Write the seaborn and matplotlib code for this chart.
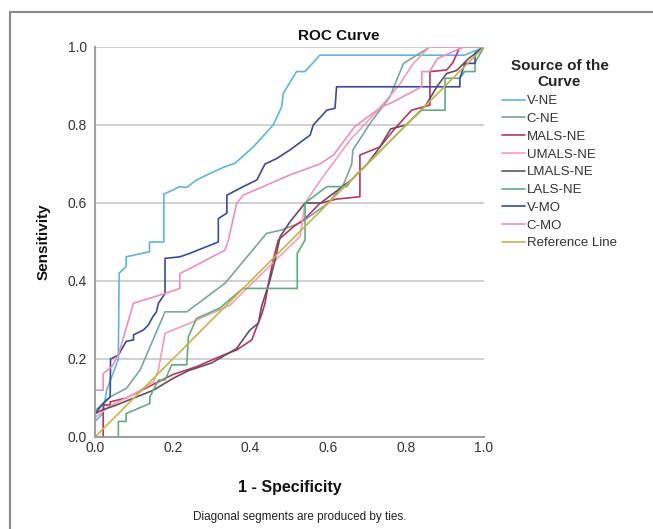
import numpy as np
import pandas as pd
import seaborn as sns
import matplotlib.pyplot as plt
from matplotlib.lines import Line2D

# ROC points (1 - specificity, sensitivity)
vne_x = [0, 0, 0.02, 0.03, 0.045, 0.06, 0.062, 0.08, 0.08, 0.14, 0.14, 0.177, 0.177, 0.197, 0.218, 0.236,
         0.261, 0.296, 0.334, 0.36, 0.407, 0.458, 0.48, 0.484, 0.518, 0.54, 0.578, 0.95, 1]
vne_y = [0, 0.04, 0.06, 0.12, 0.16, 0.2, 0.42, 0.437, 0.462, 0.475, 0.5, 0.5, 0.623, 0.632, 0.642, 0.64,
         0.659, 0.676, 0.693, 0.702, 0.744, 0.8, 0.847, 0.881, 0.937, 0.937, 0.979, 0.979, 1]

cne_x = [0, 0.039, 0.081, 0.116, 0.18, 0.236, 0.334, 0.441, 0.48, 0.53, 0.6, 0.64, 0.66, 0.663, 0.707,
         0.758, 0.793, 0.861, 1]
cne_y = [0.067, 0.103, 0.125, 0.172, 0.321, 0.321, 0.394, 0.522, 0.531, 0.55, 0.6, 0.65, 0.7, 0.736, 0.804,
         0.872, 0.958, 1, 1]

malsne_x = [0, 0.021, 0.021, 0.039, 0.039, 0.08, 0.12, 0.2, 0.26, 0.33, 0.364, 0.403, 0.416, 0.428, 0.437,
            0.446, 0.458, 0.471, 0.51, 0.54, 0.578, 0.62, 0.681, 0.681, 0.733, 0.77, 0.814, 0.861, 0.861,
            0.904, 0.92, 0.938, 1]
malsne_y = [0, 0, 0.082, 0.082, 0.09, 0.1, 0.12, 0.16, 0.18, 0.21, 0.223, 0.249, 0.283, 0.313, 0.343,
            0.394, 0.454, 0.505, 0.539, 0.56, 0.599, 0.61, 0.616, 0.723, 0.744, 0.79, 0.838, 0.851, 0.937,
            0.941, 0.96, 1, 1]

umalsne_x = [0, 0, 0.04, 0.1, 0.15, 0.163, 0.18, 0.244, 0.347, 0.42, 0.5, 0.527, 0.54, 0.583, 0.656, 0.72,
             0.78, 0.82, 0.86, 1]
umalsne_y = [0, 0.05, 0.08, 0.11, 0.14, 0.172, 0.266, 0.292, 0.338, 0.41, 0.488, 0.514, 0.6, 0.663, 0.762,
             0.83, 0.9, 0.96, 1, 1]

lmalsne_x = [0, 0, 0.02, 0.05, 0.1, 0.15, 0.2, 0.24, 0.3, 0.321, 0.364, 0.398, 0.42, 0.428, 0.45, 0.463,
             0.476, 0.5, 0.54, 0.58, 0.62, 0.66, 0.7, 0.73, 0.76, 0.8, 0.85, 0.88, 0.904, 0.93, 0.96, 1]
lmalsne_y = [0, 0.06, 0.07, 0.08, 0.1, 0.12, 0.15, 0.17, 0.19, 0.202, 0.227, 0.274, 0.292, 0.334, 0.403,
             0.454, 0.514, 0.55, 0.6, 0.6, 0.63, 0.66, 0.7, 0.74, 0.79, 0.8, 0.85, 0.9, 0.932, 0.94, 0.97, 1]

lalsne_x = [0, 0.06, 0.06, 0.08, 0.08, 0.141, 0.141, 0.163, 0.18, 0.197, 0.236, 0.24, 0.261, 0.32, 0.38,
            0.52, 0.52, 0.54, 0.54, 0.596, 0.647, 0.66, 0.7, 0.75, 0.8, 0.84, 0.9, 0.9, 0.938, 0.95, 0.977,
            0.977, 1]
lalsne_y = [0, 0, 0.04, 0.04, 0.06, 0.086, 0.103, 0.146, 0.146, 0.185, 0.185, 0.257, 0.304, 0.33, 0.381,
            0.381, 0.471, 0.505, 0.6, 0.642, 0.642, 0.66, 0.7, 0.75, 0.8, 0.838, 0.838, 0.92, 0.92, 0.937,
            0.937, 0.96, 1]

vmo_x = [0, 0, 0.021, 0.039, 0.04, 0.06, 0.08, 0.099, 0.099, 0.124, 0.137, 0.149, 0.158, 0.163, 0.18, 0.18,
         0.218, 0.244, 0.317, 0.317, 0.339, 0.339, 0.381, 0.416, 0.437, 0.467, 0.501, 0.553, 0.561, 0.596,
         0.617, 0.621, 0.938, 0.938, 0.951, 0.977, 0.977, 1]
vmo_y = [0, 0.06, 0.086, 0.103, 0.2, 0.21, 0.245, 0.249, 0.262, 0.274, 0.287, 0.309, 0.321, 0.343, 0.368,
         0.458, 0.462, 0.471, 0.5, 0.56, 0.574, 0.62, 0.642, 0.659, 0.7, 0.714, 0.736, 0.774, 0.8, 0.838,
         0.843, 0.898, 0.898, 0.92, 0.958, 0.958, 0.984, 1]

cmo_x = [0, 0, 0.021, 0.021, 0.043, 0.06, 0.099, 0.18, 0.218, 0.218, 0.244, 0.334, 0.343, 0.364, 0.381,
         0.501, 0.578, 0.613, 0.668, 0.737, 0.758, 0.84, 0.84, 0.86, 0.88, 0.938, 0.95, 1]
cmo_y = [0, 0.12, 0.12, 0.163, 0.18, 0.21, 0.343, 0.368, 0.381, 0.419, 0.432, 0.479, 0.505, 0.599, 0.62,
         0.672, 0.7, 0.723, 0.796, 0.847, 0.855, 0.898, 0.937, 0.937, 0.97, 0.996, 1, 1]

ref_x = [0, 1]
ref_y = [0, 1]

names = ['V-NE', 'C-NE', 'MALS-NE', 'UMALS-NE', 'LMALS-NE', 'LALS-NE', 'V-MO', 'C-MO', 'Reference Line']
xs = [vne_x, cne_x, malsne_x, umalsne_x, lmalsne_x, lalsne_x, vmo_x, cmo_x, ref_x]
ys = [vne_y, cne_y, malsne_y, umalsne_y, lmalsne_y, lalsne_y, vmo_y, cmo_y, ref_y]
colors = ['#5cb6df', '#7aa69c', '#b8365f', '#f4a0b4', '#6c4b5e', '#5fae80', '#3a4a9e', '#ee8fbf', '#c9b24e']

rows = []
for n, x, y in zip(names, xs, ys):
    for i in range(len(x)):
        rows.append((n, i, x[i], y[i]))
df = pd.DataFrame(rows, columns=['curve', 'step', 'fpr', 'tpr'])

sns.set_style('white')
plt.rcParams['font.family'] = ['Liberation Sans', 'DejaVu Sans']

fig = plt.figure(figsize=(6.53, 5.29), dpi=100)
ax = fig.add_axes([95 / 653, 1 - 437 / 529, 389 / 653, 390 / 529])

pal = dict(zip(names, colors))
sns.lineplot(data=df, x='fpr', y='tpr', hue='curve', hue_order=names, palette=pal, sort=False,
             estimator=None, units='curve', linewidth=1.2, legend=False, ax=ax)

ax.set_xlim(0, 1)
ax.set_ylim(0, 1)
ax.set_xticks([0, 0.2, 0.4, 0.6, 0.8, 1.0])
ax.set_yticks([0, 0.2, 0.4, 0.6, 0.8, 1.0])
ax.set_xticklabels(['0.0', '0.2', '0.4', '0.6', '0.8', '1.0'])
ax.set_yticklabels(['0.0', '0.2', '0.4', '0.6', '0.8', '1.0'])
ax.tick_params(length=0, labelsize=10, colors='#333333')
ax.tick_params(axis='x', pad=3)
ax.tick_params(axis='y', pad=6)
for y in [0.2, 0.4, 0.6, 0.8, 1.0]:
    ax.axhline(y, color='#c8c8c8', lw=1.2, zorder=0)
for s in ['top', 'right']:
    ax.spines[s].set_visible(False)
for s in ['left', 'bottom']:
    ax.spines[s].set_color('#a0a0a0')
    ax.spines[s].set_linewidth(1.5)

ax.set_xlabel('1 - Specificity', fontsize=11.5, fontweight='bold', labelpad=18, color='#111111')
ax.set_ylabel('Sensitivity', fontsize=11, fontweight='bold', labelpad=12, color='#111111')
fig.text(339 / 653, 1 - 36 / 529, 'ROC Curve', ha='center', va='center', fontsize=11,
         fontweight='bold', color='#111111')
fig.text(300 / 653, 1 - 517 / 529, 'Diagonal segments are produced by ties.', ha='center',
         va='center', fontsize=8.5, color='#222222')

handles = [Line2D([0], [0], color=c, lw=1.2) for c in colors]
leg = ax.legend(handles, names, title='Source of the\nCurve', loc='upper left',
                bbox_to_anchor=(497 / 653, 1 - 54 / 529), bbox_transform=fig.transFigure,
                frameon=False, fontsize=9.5, handlelength=1.7, handletextpad=0.15,
                labelspacing=0.42, borderaxespad=0)
leg.get_title().set_fontweight('bold')
leg.get_title().set_fontsize(11)
leg.get_title().set_multialignment('center')
for t in leg.get_texts():
    t.set_color('#333333')

# outer frame of the exported chart
fig.add_artist(Line2D([10 / 653, 10 / 653], [0, 1 - 12 / 529], transform=fig.transFigure,
                      color='#8a8a8a', lw=1.5))
fig.add_artist(Line2D([10 / 653, 1], [1 - 12 / 529, 1 - 12 / 529], transform=fig.transFigure,
                      color='#8a8a8a', lw=1.5))

fig.savefig('out.png', dpi=100)
